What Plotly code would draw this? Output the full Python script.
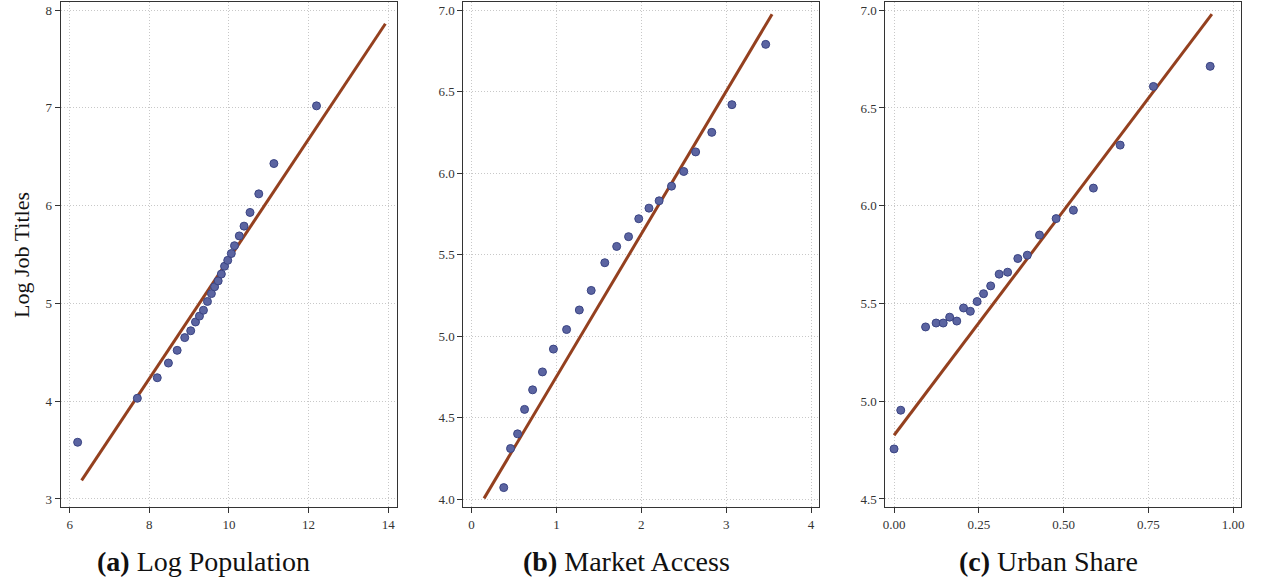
import plotly.graph_objects as go

W, H = 1261, 579

# ---------------- data ----------------
pop_x = [6.2, 7.7, 8.2, 8.48, 8.7, 8.89, 9.04, 9.16, 9.26, 9.36, 9.46, 9.56, 9.64,
         9.73, 9.81, 9.89, 9.97, 10.06, 10.14, 10.26, 10.38, 10.53, 10.75, 11.13, 12.2]
pop_y = [3.58, 4.03, 4.24, 4.39, 4.52, 4.65, 4.72, 4.81, 4.87, 4.93, 5.02, 5.10, 5.17,
         5.23, 5.30, 5.38, 5.44, 5.51, 5.59, 5.69, 5.79, 5.93, 6.12, 6.43, 7.02]
pop_fit_x = [6.3, 13.93]
pop_fit_y = [3.19, 7.86]

ma_x = [0.38, 0.46, 0.543, 0.625, 0.72, 0.836, 0.965, 1.12, 1.27, 1.41, 1.57, 1.71,
        1.85, 1.97, 2.09, 2.21, 2.356, 2.50, 2.64, 2.83, 3.067, 3.465]
ma_y = [4.07, 4.31, 4.40, 4.55, 4.67, 4.78, 4.92, 5.04, 5.16, 5.28, 5.45, 5.55,
        5.61, 5.72, 5.785, 5.83, 5.92, 6.01, 6.13, 6.25, 6.42, 6.79]
ma_fit_x = [0.148, 3.54]
ma_fit_y = [4.004, 6.975]

us_x = [0.0, 0.0197, 0.093, 0.124, 0.145, 0.164, 0.185, 0.205, 0.225, 0.245, 0.264,
        0.285, 0.31, 0.335, 0.365, 0.393, 0.429, 0.478, 0.529, 0.588, 0.667, 0.765, 0.9325]
us_y = [4.756, 4.954, 5.38, 5.40, 5.40, 5.43, 5.41, 5.477, 5.46, 5.51, 5.55,
        5.59, 5.65, 5.66, 5.73, 5.747, 5.85, 5.934, 5.977, 6.09, 6.31, 6.61, 6.713]
us_fit_x = [0.0, 0.9375]
us_fit_y = [4.826, 6.98]

pop_xticks = [6, 8, 10, 12, 14]
pop_yticks = [3, 4, 5, 6, 7, 8]
ma_xticks = [0, 1, 2, 3, 4]
ma_yticks = [4.0, 4.5, 5.0, 5.5, 6.0, 6.5, 7.0]
us_xticks = [0.0, 0.25, 0.5, 0.75, 1.0]
us_yticks = [4.5, 5.0, 5.5, 6.0, 6.5, 7.0]

panel_letters = ["(a)", "(b)", "(c)"]
panel_names = ["Log Population", "Market Access", "Urban Share"]
y_title = "Log Job Titles"

# ---------------- styling ----------------
FONT = "Liberation Serif"
PT_COLOR = "#5b64a1"
PT_EDGE = "#3a4483"
LINE_COLOR = "#94401f"

fig = go.Figure()

panels = [
    (pop_x, pop_y, pop_fit_x, pop_fit_y, pop_xticks, pop_yticks, [5.775, 14.225], [2.918, 8.082], None, None),
    (ma_x, ma_y, ma_fit_x, ma_fit_y, ma_xticks, ma_yticks, [-0.094, 4.094], [3.951, 7.05], None, ".1f"),
    (us_x, us_y, us_fit_x, us_fit_y, us_xticks, us_yticks, [-0.0253, 1.0245], [4.459, 7.042], ".2f", ".1f"),
]
xdoms = [(58, 396), (462.7, 820), (886.7, 1244.3)]
ytop, ybot = 2, 507

for i, (px, py, fx, fy, xt, yt, xr, yr, xfmt, yfmt) in enumerate(panels):
    sfx = "" if i == 0 else str(i + 1)
    fig.add_trace(go.Scatter(x=fx, y=fy, mode="lines",
                             line=dict(color=LINE_COLOR, width=3),
                             xaxis="x" + sfx, yaxis="y" + sfx, showlegend=False))
    fig.add_trace(go.Scatter(x=px, y=py, mode="markers",
                             marker=dict(size=8, color=PT_COLOR,
                                         line=dict(color=PT_EDGE, width=1)),
                             xaxis="x" + sfx, yaxis="y" + sfx, showlegend=False))
    common = dict(showline=True, linecolor="#333333", linewidth=1.3, mirror=True,
                  showgrid=True, gridcolor="#c8c8c8", griddash="1px,2px", gridwidth=1,
                  ticks="outside", ticklen=5, tickcolor="#333333", tickwidth=1,
                  zeroline=False,
                  tickfont=dict(family=FONT, size=13, color="#333333"))
    xax = dict(domain=[xdoms[i][0] / W, xdoms[i][1] / W], range=xr,
               tickvals=xt, anchor="y" + sfx, **common)
    if xfmt:
        xax["tickformat"] = xfmt
    yax = dict(domain=[1 - ybot / H, 1 - ytop / H], range=yr,
               tickvals=yt, anchor="x" + sfx, **common)
    if yfmt:
        yax["tickformat"] = yfmt
    fig.layout["xaxis" + sfx] = xax
    fig.layout["yaxis" + sfx] = yax

centers = [201.5, 626, 1051]
annotations = []
for i in range(3):
    annotations.append(dict(
        text="<b>" + panel_letters[i] + "</b> " + panel_names[i],
        x=centers[i] / W, y=1 - 561 / H, xref="paper", yref="paper",
        xanchor="center", yanchor="middle", showarrow=False,
        font=dict(family=FONT, size=28, color="#111111")))
annotations.append(dict(
    text=y_title, x=18 / W, y=1 - 255 / H, xref="paper", yref="paper",
    xanchor="center", yanchor="middle", showarrow=False, textangle=-90,
    font=dict(family=FONT, size=22, color="#111111")))

fig.update_layout(width=W, height=H, margin=dict(l=0, r=0, t=0, b=0),
                  paper_bgcolor="white", plot_bgcolor="white",
                  annotations=annotations, showlegend=False)

fig.write_html("out.html")
